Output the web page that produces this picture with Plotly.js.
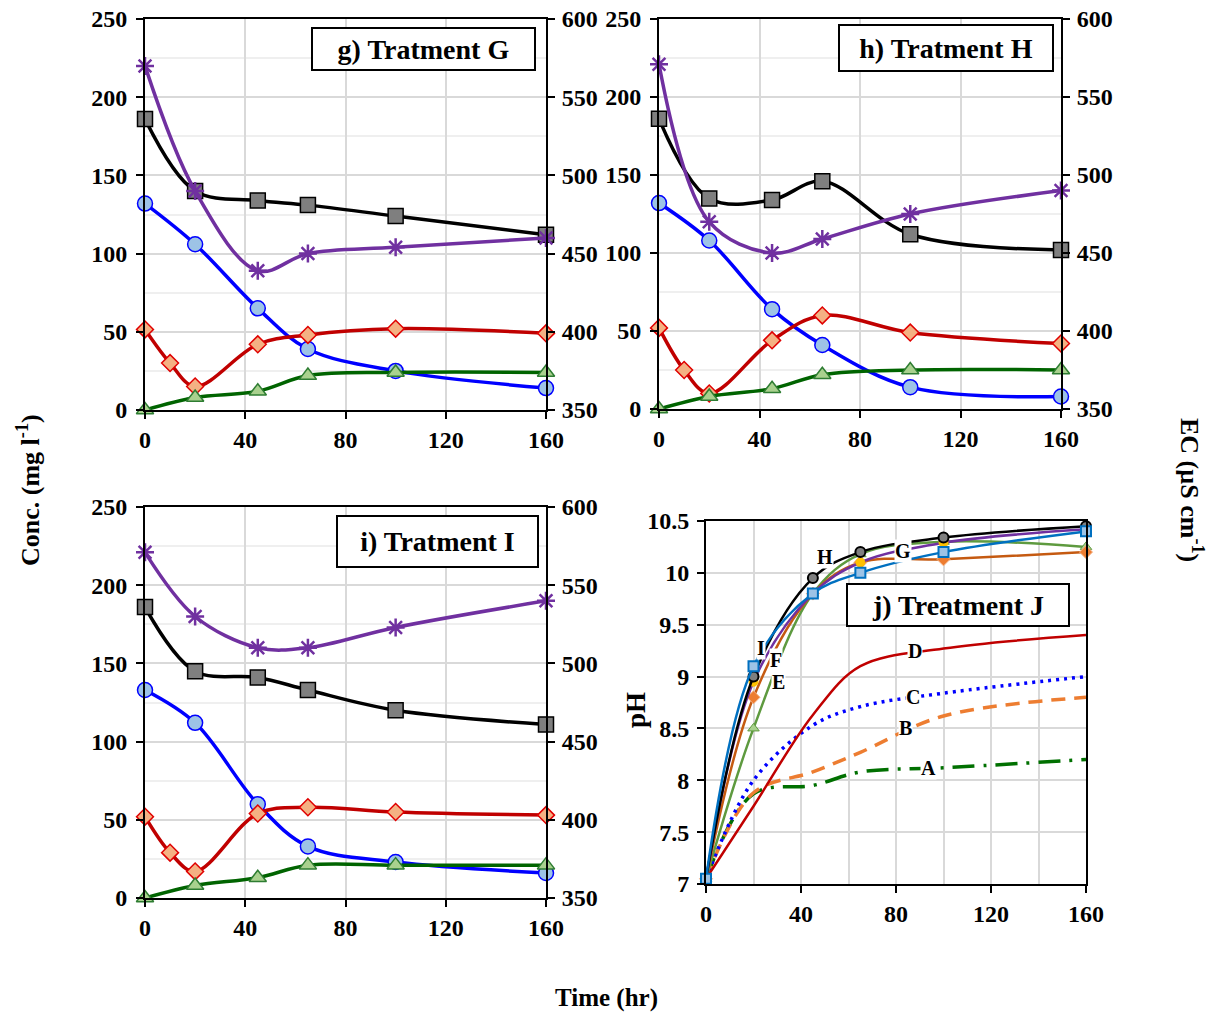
<!DOCTYPE html>
<html>
<head>
<meta charset="utf-8">
<script src="https://cdn.plot.ly/plotly-3.0.1.min.js"></script>
<style>html,body{margin:0;padding:0;background:#fff;}#chart{width:1219px;height:1016px;}</style>
</head>
<body>
<div id="chart"></div>
<script>
// ---------- DATA ----------
var timeHr = [0, 20, 45, 65, 100, 160];
var timeRed = [0, 10, 20, 45, 65, 100, 160];
var xTicks = [0, 40, 80, 120, 160];

// Panel g) Tratment G
var gBlack = [186, 140, 134, 131, 124, 112];
var gPurpleEC = [570, 490, 439, 450, 454, 460];
var gBlue = [132, 106, 65, 39, 25, 14];
var gRed = [51.5, 30, 15, 42, 48, 52, 49];
var gGreen = [0, 8, 12, 22, 24, 24];

// Panel h) Tratment H
var hBlack = [186, 135, 134, 146, 112, 102];
var hPurpleEC = [571, 470, 450, 459, 475, 490];
var hBlue = [132, 108, 64, 41, 14, 8];
var hRed = [52, 25, 10, 44, 60, 49, 42];
var hGreen = [0, 8, 13, 22, 25, 25];

// Panel i) Tratment I
var iBlack = [186, 145, 141, 133, 120, 111];
var iPurpleEC = [571, 530, 510, 510, 523, 540];
var iBlue = [133, 112, 60, 33, 23, 16];
var iRed = [52, 29, 17, 54, 58, 55, 53];
var iGreen = [0, 8, 13, 21, 21, 21];

// Panel j) Treatment J (pH)
var treatNames = ['A', 'B', 'C', 'D', 'E', 'F', 'G', 'H', 'I'];
var pH_A = [7.05, 7.87, 7.95, 8.08, 8.12, 8.2];
var pH_B = [7.05, 7.88, 8.08, 8.27, 8.62, 8.8];
var pH_C = [7.05, 8.0, 8.53, 8.71, 8.84, 9.0];
var pH_D = [7.05, 7.75, 8.63, 9.1, 9.27, 9.4];
var pH_E = [7.05, 8.5, 9.8, 10.18, 10.3, 10.25];
var pH_F = [7.05, 8.8, 9.8, 10.1, 10.13, 10.2];
var pH_G = [7.05, 8.95, 9.8, 10.1, 10.29, 10.42];
var pH_H = [7.05, 9.0, 9.95, 10.2, 10.34, 10.45];
var pH_I = [7.05, 9.1, 9.8, 10.0, 10.2, 10.4];
// label positions (time, pH) of the letters
var labelX = [93.5, 84.2, 87.2, 88, 30.7, 29.5, 82.9, 50.1, 23.2];
var labelY = [8.12, 8.50, 8.80, 9.25, 8.95, 9.16, 10.21, 10.15, 9.28];

// ---------- HELPERS ----------
var W = 1219, H = 1016;
function px(x) { return x / W; }
function py(y) { return 1 - y / H; }
var FONT = 'Liberation Serif, Times New Roman, serif';
function tf(size) { return {family: FONT, size: size, color: '#000', weight: 700}; }

function baseAxis(extra) {
  var a = {
    showline: true, linecolor: '#000', linewidth: 2,
    ticks: 'outside', ticklen: 7, tickwidth: 2, tickcolor: '#000',
    tickfont: tf(24), zeroline: false, fixedrange: true
  };
  for (var k in extra) a[k] = extra[k];
  return a;
}

var traces = [];
function concPanel(xa, ya, ya2, black, purpleEC, blue, red, green) {
  var common = {xaxis: xa, yaxis: ya, mode: 'lines+markers', cliponaxis: false,
                line: {shape: 'spline', smoothing: 1, width: 3.5}};
  function tr(x, y, yax, lineColor, marker) {
    var t = JSON.parse(JSON.stringify(common));
    t.x = x; t.y = y; t.yaxis = yax;
    t.line.color = lineColor; t.marker = marker;
    return t;
  }
  traces.push(tr(timeHr, black, ya, '#000000',
    {symbol: 'square', size: 15, color: '#7f7f7f', line: {color: '#000', width: 1.5}}));
  traces.push(tr(timeHr, purpleEC, ya2, '#7030A0',
    {symbol: 'asterisk-open', size: 15, color: '#7030A0', line: {color: '#7030A0', width: 2.5}}));
  traces.push(tr(timeHr, blue, ya, '#0000FF',
    {symbol: 'circle', size: 15, color: '#9DC3E6', line: {color: '#0000FF', width: 1.5}}));
  traces.push(tr(timeRed, red, ya, '#C00000',
    {symbol: 'diamond', size: 13, color: '#F4B183', line: {color: '#E00000', width: 1.5}}));
  traces.push(tr(timeHr, green, ya, '#006400',
    {symbol: 'triangle-up', size: 15, color: '#A9D18E', line: {color: '#2E7D32', width: 1.5}}));
}
concPanel('x', 'y', 'y2', gBlack, gPurpleEC, gBlue, gRed, gGreen);
concPanel('x2', 'y3', 'y4', hBlack, hPurpleEC, hBlue, hRed, hGreen);
concPanel('x3', 'y5', 'y6', iBlack, iPurpleEC, iBlue, iRed, iGreen);

// pH panel
function phTrace(y, color, width, dash, marker) {
  var t = {x: timeHr, y: y, xaxis: 'x4', yaxis: 'y7', cliponaxis: false,
           mode: marker ? 'lines+markers' : 'lines',
           line: {shape: 'spline', smoothing: 1, width: width, color: color, dash: dash}};
  if (marker) t.marker = marker;
  return t;
}
traces.push(phTrace(pH_A, '#007000', 3.5, '22px,9px,3px,9px'));
traces.push(phTrace(pH_B, '#ED7D31', 3.5, '14px,9px'));
traces.push(phTrace(pH_C, '#0000FF', 3.5, '3px,5px'));
traces.push(phTrace(pH_D, '#C00000', 2.5, 'solid'));
traces.push(phTrace(pH_E, '#5E9A3F', 2.5, 'solid',
  {symbol: 'triangle-up', size: 10, color: '#A9D18E', line: {color: '#5E9A3F', width: 1}}));
traces.push(phTrace(pH_F, '#C55A11', 2.5, 'solid',
  {symbol: 'diamond', size: 10, color: '#ED7D31', line: {color: '#F4B183', width: 1}}));
traces.push(phTrace(pH_G, '#7030A0', 2.5, 'solid',
  {symbol: 'circle', size: 9, color: '#FFC000', line: {color: '#FFC000', width: 1}}));
traces.push(phTrace(pH_H, '#000000', 2.5, 'solid',
  {symbol: 'circle', size: 10, color: '#7f7f7f', line: {color: '#000', width: 2}}));
traces.push(phTrace(pH_I, '#0070C0', 2.5, 'solid',
  {symbol: 'square', size: 10, color: '#9DC3E6', line: {color: '#0070C0', width: 2}}));

// ---------- LAYOUT ----------
var gridMajor = '#d9d9d9', gridMinor = '#efefef';
function xConc(x0, x1, anchor) {
  return baseAxis({domain: [px(x0), px(x1)], anchor: anchor, range: [0, 160],
    tickvals: xTicks, showgrid: true, gridcolor: gridMajor, gridwidth: 2, mirror: true});
}
function yConc(y0, y1, anchor) {
  return baseAxis({domain: [py(y1), py(y0)], anchor: anchor, range: [0, 250], dtick: 50,
    ticklabelstandoff: 4,
    showgrid: true, gridcolor: gridMajor, gridwidth: 2,
    minor: {dtick: 25, showgrid: true, gridcolor: gridMinor, gridwidth: 2}});
}
function yEC(over, anchor) {
  return baseAxis({overlaying: over, anchor: anchor, side: 'right', range: [350, 600], dtick: 50,
    ticklabelstandoff: 2, showgrid: false});
}

var layout = {
  width: W, height: H, margin: {l: 0, r: 0, t: 0, b: 0},
  paper_bgcolor: '#fff', plot_bgcolor: '#fff', showlegend: false,
  font: tf(24),
  xaxis: xConc(145, 546, 'y'),
  yaxis: yConc(19, 410, 'x'),
  yaxis2: yEC('y', 'x'),
  xaxis2: xConc(659, 1061, 'y3'),
  yaxis3: yConc(19, 409, 'x2'),
  yaxis4: yEC('y3', 'x2'),
  xaxis3: xConc(145, 546, 'y5'),
  yaxis5: yConc(507, 898, 'x3'),
  yaxis6: yEC('y5', 'x3'),
  xaxis4: baseAxis({domain: [px(706), px(1086)], anchor: 'y7', range: [0, 160], tickvals: xTicks,
    showgrid: true, gridcolor: gridMajor, gridwidth: 2, mirror: true,
    minor: {dtick: 20, showgrid: true, gridcolor: gridMajor, gridwidth: 2}}),
  yaxis7: baseAxis({domain: [py(884), py(521)], anchor: 'x4', range: [7, 10.5], dtick: 0.5,
    ticklabelstandoff: 3,
    showgrid: true, gridcolor: gridMajor, gridwidth: 2, mirror: true}),
  annotations: []
};

function boxNote(text, x0, x1, y0, y1) {
  layout.annotations.push({
    xref: 'paper', yref: 'paper', x: px((x0 + x1) / 2), y: py((y0 + y1) / 2),
    xanchor: 'center', yanchor: 'middle', text: text, showarrow: false,
    font: tf(28), bgcolor: '#fff', bordercolor: '#000', borderwidth: 2, borderpad: 0,
    width: x1 - x0 - 4, height: y1 - y0 - 4
  });
}
boxNote('g) Tratment G', 311, 536, 27, 71);
boxNote('h) Tratment H', 838, 1054, 24, 72);
boxNote('i) Tratment I', 336, 539, 515, 568);
boxNote('j) Treatment J', 846, 1070, 583, 627);

function freeText(text, x, y, angle, size) {
  layout.annotations.push({xref: 'paper', yref: 'paper', x: px(x), y: py(y),
    xanchor: 'center', yanchor: 'middle', text: text, showarrow: false,
    textangle: angle, font: tf(size)});
}
freeText('Conc. (mg l<sup>-1</sup>)', 28, 490, -90, 26);
freeText('EC (µS cm<sup>-1</sup>)', 1192, 490, 90, 26);
freeText('pH', 636, 710, -90, 27);
freeText('Time (hr)', 606, 998, 0, 25);

for (var k = 0; k < treatNames.length; k++) {
  layout.annotations.push({xref: 'x4', yref: 'y7', x: labelX[k], y: labelY[k],
    text: treatNames[k], showarrow: false, font: tf(20), bgcolor: '#fff', borderpad: 0,
    xanchor: 'center', yanchor: 'middle'});
}

Plotly.newPlot('chart', traces, layout, {staticPlot: true, displayModeBar: false});
</script>
</body>
</html>
